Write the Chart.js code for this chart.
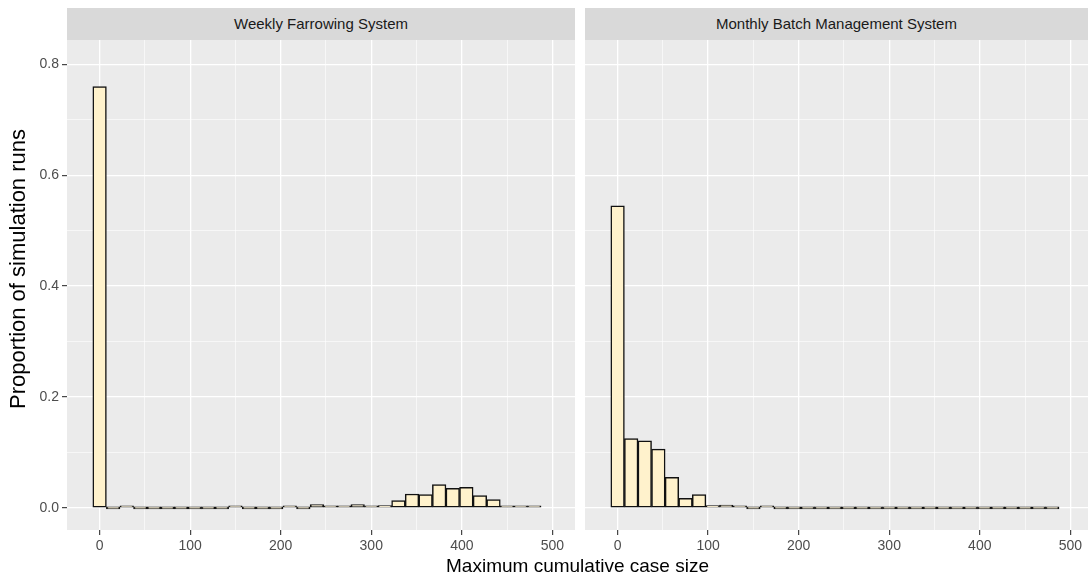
<!DOCTYPE html>
<html lang="en">
<head>
    <meta charset="UTF-8">
    <title>Maximum cumulative case size</title>
    <script src="https://cdn.jsdelivr.net/npm/chart.js"></script>
    <style>
        body {
            margin: 0;
            background: #ffffff;
            font-family: 'Liberation Sans', Arial, sans-serif;
        }
        .stage {
            position: relative;
            width: 1090px;
            height: 581px;
            overflow: hidden;
        }
        .stage canvas {
            position: absolute;
        }
        .strip {
            position: absolute;
            top: 8px;
            height: 32px;
            background: #d9d9d9;
            color: #1a1a1a;
            font-size: 15px;
            line-height: 32px;
            text-align: center;
        }
        .x-title {
            position: absolute;
            left: 67px;
            width: 1021px;
            top: 555px;
            text-align: center;
            font-size: 19px;
            color: #000;
        }
        .y-title {
            position: absolute;
            left: 18px;
            top: 269px;
            width: 400px;
            margin-left: -200px;
            margin-top: -12px;
            height: 24px;
            line-height: 24px;
            text-align: center;
            font-size: 22px;
            color: #000;
            transform: rotate(-90deg);
            white-space: nowrap;
        }
    </style>
</head>
<body>
    <div class="stage">
        <div class="strip" style="left:67px;width:508px;">Weekly Farrowing System</div>
        <div class="strip" style="left:585px;width:503px;">Monthly Batch Management System</div>
        <canvas id="weekly" style="left:0;top:40px;width:580px;height:525px;"></canvas>
        <canvas id="monthly" style="left:580px;top:40px;width:510px;height:525px;"></canvas>
        <div class="y-title">Proportion of simulation runs</div>
        <div class="x-title">Maximum cumulative case size</div>
    </div>

    <script>
        // histogram bins (binwidth 15, centred on 0)
        const binCenters = [0, 15, 30, 45, 60, 75, 90, 105, 120, 135, 150, 165, 180, 195, 210, 225,
            240, 255, 270, 285, 300, 315, 330, 345, 360, 375, 390, 405, 420, 435, 450, 465, 480];

        const weeklyProportion = [0.760, 0, 0.003, 0, 0, 0, 0, 0, 0, 0, 0.003, 0, 0, 0, 0.003, 0,
            0.006, 0.002, 0.002, 0.006, 0.001, 0.004, 0.013, 0.025, 0.024, 0.042, 0.035, 0.037, 0.022, 0.015, 0.003, 0.002, 0.001];

        const monthlyProportion = [0.545, 0.125, 0.121, 0.106, 0.055, 0.017, 0.024, 0.004, 0.005, 0.002, 0, 0.002, 0, 0, 0, 0,
            0, 0, 0, 0, 0, 0, 0, 0, 0, 0, 0, 0, 0, 0, 0, 0, 0];

        const xTickLabels = [0, 100, 200, 300, 400, 500];
        const xGridValues = [0, 50, 100, 150, 200, 250, 300, 350, 400, 450, 500];
        const yTickLabels = [0, 0.2, 0.4, 0.6, 0.8];
        const yGridValues = [0, 0.1, 0.2, 0.3, 0.4, 0.5, 0.6, 0.7, 0.8];

        const fontFamily = "'Liberation Sans', Arial, sans-serif";

        const panelBackground = {
            id: 'panelBackground',
            beforeDraw(chart) {
                const a = chart.chartArea;
                const ctx = chart.ctx;
                ctx.save();
                ctx.fillStyle = '#ebebeb';
                ctx.fillRect(a.left, a.top, a.right - a.left, a.bottom - a.top);
                ctx.restore();
            }
        };

        function makeChart(id, values, showY, xMax, padding) {
            const ctx = document.getElementById(id).getContext('2d');
            return new Chart(ctx, {
                type: 'bar',
                data: {
                    datasets: [{
                        data: binCenters.map((c, i) => ({ x: c, y: values[i] })),
                        backgroundColor: '#fff2cc',
                        borderColor: '#111111',
                        borderWidth: 1.5,
                        borderSkipped: false,
                        minBarLength: 2,
                        barPercentage: 1,
                        categoryPercentage: 1
                    }]
                },
                options: {
                    responsive: false,
                    animation: false,
                    layout: { padding: padding },
                    plugins: {
                        legend: { display: false },
                        tooltip: { enabled: false }
                    },
                    scales: {
                        x: {
                            type: 'linear',
                            min: -36,
                            max: xMax,
                            offset: false,
                            afterBuildTicks: s => { s.ticks = xGridValues.map(v => ({ value: v })); },
                            afterFit: s => { s.height = 35; s.paddingLeft = 0; s.paddingRight = 0; },
                            border: { display: false },
                            grid: {
                                offset: false,
                                color: '#ffffff',
                                lineWidth: c => xTickLabels.includes(c.tick.value) ? 1.3 : 0.6,
                                drawTicks: true,
                                tickLength: 5,
                                tickWidth: 1.1,
                                tickColor: c => xTickLabels.includes(c.tick.value) ? '#333333' : 'rgba(0,0,0,0)'
                            },
                            ticks: {
                                autoSkip: false,
                                maxRotation: 0,
                                padding: 3,
                                color: '#4d4d4d',
                                font: { family: fontFamily, size: 14 },
                                callback: v => xTickLabels.includes(v) ? String(v) : ''
                            }
                        },
                        y: {
                            min: -0.040,
                            max: 0.844,
                            afterBuildTicks: s => { s.ticks = yGridValues.map(v => ({ value: v })); },
                            afterFit: s => { s.width = showY ? 67 : 0; s.paddingTop = 0; s.paddingBottom = 0; },
                            border: { display: false },
                            grid: {
                                color: '#ffffff',
                                lineWidth: c => yTickLabels.includes(c.tick.value) ? 1.3 : 0.6,
                                drawTicks: showY,
                                tickLength: 5,
                                tickWidth: 1.1,
                                tickColor: c => yTickLabels.includes(c.tick.value) ? '#333333' : 'rgba(0,0,0,0)'
                            },
                            ticks: {
                                display: showY,
                                autoSkip: false,
                                padding: 3,
                                color: '#4d4d4d',
                                font: { family: fontFamily, size: 14 },
                                callback: v => yTickLabels.includes(v) ? v.toFixed(1) : ''
                            }
                        }
                    }
                },
                plugins: [panelBackground]
            });
        }

        const weeklyCanvas = document.getElementById('weekly');
        weeklyCanvas.width = 580; weeklyCanvas.height = 525;
        const monthlyCanvas = document.getElementById('monthly');
        monthlyCanvas.width = 510; monthlyCanvas.height = 525;

        makeChart('weekly', weeklyProportion, true, 525, { left: 0, right: 5, top: 0, bottom: 0 });
        makeChart('monthly', monthlyProportion, false, 519.5, { left: 5, right: 2, top: 0, bottom: 0 });
    </script>
</body>
</html>
